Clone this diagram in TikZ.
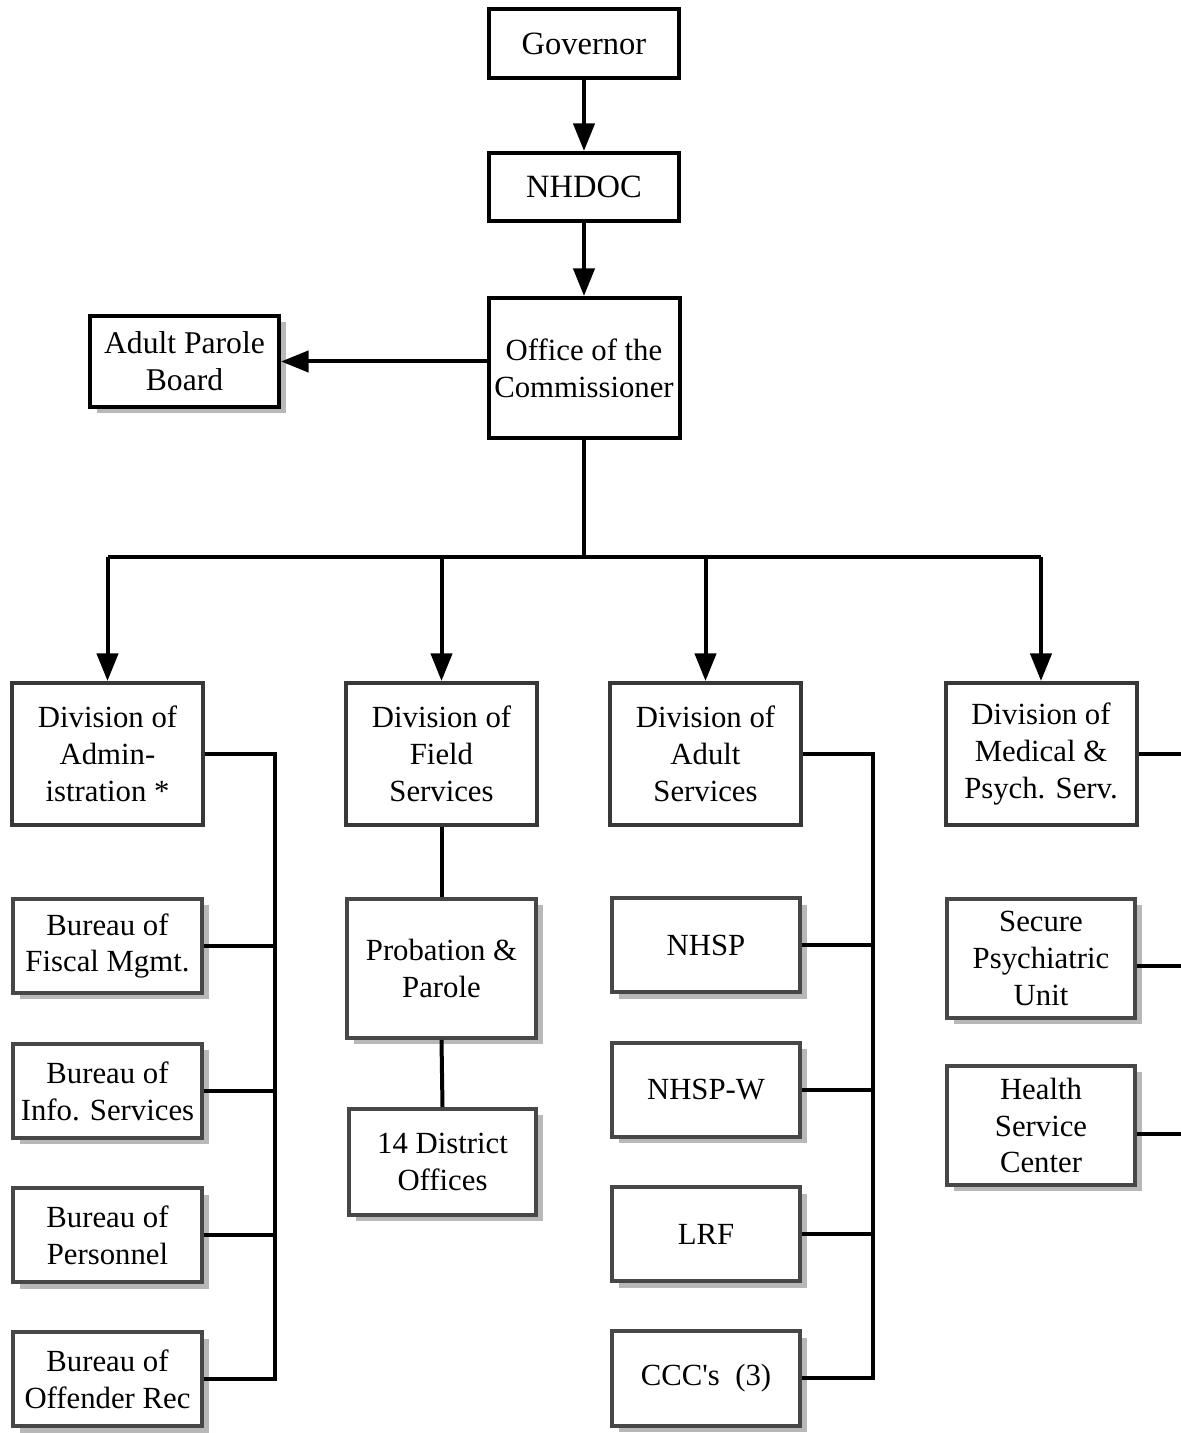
\documentclass[tikz,border=0pt]{standalone}
\usepackage{fontspec}
\setmainfont{Liberation Serif}[Ligatures=TeXOff]
\usetikzlibrary{arrows.meta,shadows}

\begin{document}
\begin{tikzpicture}[
  box/.style={draw=cbox,fill=cfbox,line width=0.08cm,inner sep=0pt,align=center,
    font=\fontsize{17.5}{21}\selectfont},
  topbox/.style={box,font=\fontsize{18.5}{21}\selectfont},
  divbox/.style={box,draw=cdiv},
  unitbox/.style={box,draw=cunit,drop shadow={shadow xshift=0.13cm,shadow yshift=-0.13cm,fill=cshd,opacity=1}},
  edge/.style={draw=cedge,line width=0.08cm},
  arr/.style={edge,-{Triangle[length=0.55cm,width=0.42cm]}}]
\definecolor{cbox}{rgb}{0.0,0.0,0.0}
\definecolor{cdiv}{rgb}{0.22,0.22,0.22}
\definecolor{cunit}{rgb}{0.28,0.28,0.28}
\definecolor{cfbox}{rgb}{1.0,1.0,1.0}
\definecolor{cshd}{rgb}{0.72,0.72,0.72}
\definecolor{cedge}{rgb}{0.0,0.0,0.0}
%
\useasboundingbox (0,0) rectangle (23.6,28.66);
%
\node[topbox,minimum width=3.8cm,minimum height=1.38cm] (gov) at (11.68,27.79) {Governor};
\node[topbox,minimum width=3.8cm,minimum height=1.36cm] (nhdoc) at (11.68,24.92) {NHDOC};
\node[box,minimum width=3.82cm,minimum height=2.8cm] (office) at (11.68,21.30) {Office of the\\Commissioner};
\node[unitbox,draw=cbox,font=\fontsize{18}{21}\selectfont,minimum width=3.78cm,minimum height=1.82cm] (apb) at (3.69,21.43) {Adult Parole\\Board};
%
\node[divbox,minimum width=3.82cm,minimum height=2.84cm] (divadm) at (2.15,13.58) {Division of\\Admin-\\istration *};
\node[divbox,minimum width=3.82cm,minimum height=2.84cm] (divfld) at (8.83,13.58) {Division of\\Field\\Services};
\node[divbox,minimum width=3.82cm,minimum height=2.84cm] (divadl) at (14.11,13.58) {Division of\\Adult\\Services};
\node[divbox,minimum width=3.82cm,minimum height=2.84cm] (divmed) at (20.82,13.58) {Division of\\Medical \&\\Psych. Serv.};
%
\node[unitbox,minimum width=3.78cm,minimum height=1.88cm] (burfis) at (2.15,9.74) {Bureau of\\Fiscal Mgmt.};
\node[unitbox,minimum width=3.78cm,minimum height=1.88cm] (burinf) at (2.15,6.84) {Bureau of\\Info. Services};
\node[unitbox,minimum width=3.78cm,minimum height=1.88cm] (burper) at (2.15,3.95) {Bureau of\\Personnel};
\node[unitbox,minimum width=3.78cm,minimum height=1.88cm] (burofr) at (2.15,1.07) {Bureau of\\Offender Rec};
%
\node[unitbox,minimum width=3.78cm,minimum height=2.78cm] (probpar) at (8.83,9.29) {Probation \&\\Parole};
\node[unitbox,minimum width=3.74cm,minimum height=2.12cm] (dist) at (8.85,5.42) {14 District\\Offices};
%
\node[unitbox,minimum width=3.76cm,minimum height=1.88cm] (nhsp) at (14.12,9.75) {NHSP};
\node[unitbox,minimum width=3.76cm,minimum height=1.88cm] (nhspw) at (14.12,6.86) {NHSP-W};
\node[unitbox,minimum width=3.76cm,minimum height=1.88cm] (lrf) at (14.12,3.97) {LRF};
\node[unitbox,minimum width=3.76cm,minimum height=1.88cm] (ccc) at (14.12,1.09) {CCC's~~(3)};
%
\node[unitbox,minimum width=3.76cm,minimum height=2.38cm] (secpsy) at (20.82,9.49) {Secure\\Psychiatric\\Unit};
\node[unitbox,minimum width=3.76cm,minimum height=2.38cm] (hsc) at (20.82,6.15) {Health\\Service\\Center};
%
\coordinate (busw) at (2.15,17.52);
\coordinate (buse) at (20.82,17.52);
\coordinate (admtrunk) at (5.5,0);
\coordinate (adltrunk) at (17.46,0);
\coordinate (medtrunk) at (23.7,0);
\coordinate (secout) at ([yshift=-0.16cm]secpsy.east);
\coordinate (hscout) at ([yshift=-0.18cm]hsc.east);
%
\draw[arr] (gov.south) -- (nhdoc.north);
\draw[arr] (nhdoc.south) -- (office.north);
\draw[arr] (office.west |- apb.east) -- (apb.east);
\draw[edge] (office.south) -- (office.south |- busw);
\draw[edge] (busw) -- (buse);
\foreach \d in {divadm,divfld,divadl,divmed}
  \draw[arr] (\d.north |- busw) -- (\d.north);
%
\draw[edge] (divadm.east) -| (admtrunk |- burofr.east) -- (burofr.east);
\foreach \b in {burfis,burinf,burper}
  \draw[edge] (\b.east) -- (admtrunk |- \b.east);
%
\draw[edge] (divfld.south) -- (probpar.north);
\draw[edge] (probpar.south) -- (dist.north);
%
\draw[edge] (divadl.east) -| (adltrunk |- ccc.east) -- (ccc.east);
\foreach \b in {nhsp,nhspw,lrf}
  \draw[edge] (\b.east) -- (adltrunk |- \b.east);
%
\draw[edge] (divmed.east) -| (medtrunk |- hscout);
\draw[edge] (secout) -- (medtrunk |- secout);
\draw[edge] (hscout) -- (medtrunk |- hscout);
%
\end{tikzpicture}
\end{document}
